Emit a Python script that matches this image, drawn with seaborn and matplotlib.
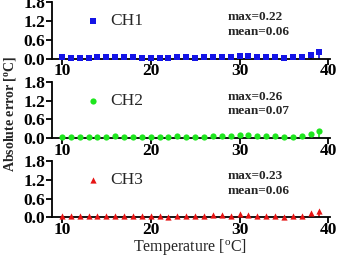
import numpy as np
import seaborn as sns
import matplotlib.pyplot as plt
import pandas as pd

temp = list(range(10, 40))
ch1 = [0.05, 0.03, 0.03, 0.03, 0.04, 0.04, 0.04, 0.04, 0.04, 0.03,
       0.03, 0.03, 0.02, 0.06, 0.04, 0.02, 0.04, 0.06, 0.06, 0.05,
       0.09, 0.08, 0.05, 0.05, 0.05, 0.02, 0.04, 0.05, 0.12, 0.20]
ch2 = [0.05, 0.03, 0.03, 0.04, 0.04, 0.05, 0.06, 0.05, 0.05, 0.04,
       0.03, 0.03, 0.03, 0.06, 0.05, 0.04, 0.05, 0.07, 0.07, 0.06,
       0.11, 0.09, 0.06, 0.06, 0.06, 0.03, 0.05, 0.06, 0.13, 0.22]
ch3 = [0.05, 0.04, 0.04, 0.05, 0.05, 0.05, 0.06, 0.05, 0.05, 0.04,
       0.04, 0.04, 0.03, 0.06, 0.05, 0.04, 0.05, 0.07, 0.07, 0.06,
       0.10, 0.09, 0.06, 0.06, 0.06, 0.03, 0.05, 0.06, 0.14, 0.22]
names = ['CH1', 'CH2', 'CH3']
stats = ['max=0.22\nmean=0.06', 'max=0.26\nmean=0.07', 'max=0.23\nmean=0.06']
colors = ['#1414e6', '#1ee61e', '#e61414']
markers = ['s', 'o', '^']
yticks = [0.0, 0.6, 1.2, 1.8]
xticks = [10, 20, 30, 40]

sns.set_style('ticks')
plt.rcParams['font.family'] = ['Liberation Serif', 'DejaVu Serif']

fig = plt.figure(figsize=(3.41, 2.58), dpi=100)
bottoms = [0.773, 0.464, 0.157]
for i, vals in enumerate([ch1, ch2, ch3]):
    ax = fig.add_axes([0.153, bottoms[i], 0.815, 0.219])
    df = pd.DataFrame({'t': temp, 'v': vals})
    ax.vlines(df['t'], 0, df['v'], color=colors[i], lw=1.2, clip_on=False)
    sns.scatterplot(data=df, x='t', y='v', ax=ax, color=colors[i], marker=markers[i],
                    s=20, edgecolor=colors[i], linewidth=0, clip_on=False, zorder=3)
    ax.set_xlim(8.9, 40.2)
    ax.set_ylim(0, 1.8)
    ax.set_xticks(xticks)
    ax.set_yticks(yticks)
    ax.set_yticklabels(['%.1f' % y for y in yticks])
    ax.set_xlabel('')
    ax.set_ylabel('')
    for s in ['top', 'right']:
        ax.spines[s].set_visible(False)
    for s in ['left', 'bottom']:
        ax.spines[s].set_linewidth(1.3)
        ax.spines[s].set_color('black')
    ax.tick_params(axis='both', labelsize=12.5, width=1.3, length=4, pad=1, colors='black')
    ax.tick_params(axis='x', pad=-0.5)
    for lab in ax.get_xticklabels() + ax.get_yticklabels():
        lab.set_fontweight('bold')
    ax.scatter([13.5], [1.2], marker=markers[i], color=colors[i], s=20, linewidth=0)
    ax.text(15.4, 1.2, names[i], fontsize=12.5, va='center')
    ax.text(28.7, 1.09, stats[i], fontsize=9.5, fontweight='bold', va='center', linespacing=1.3)
    ax.patch.set_alpha(0)

fig.text(0.557, 0.004, 'Temperature [$\\mathregular{^o}$C]', ha='center', va='bottom', fontsize=11.5)
fig.text(0.03, 0.56, 'Absolute error [$\\mathregular{^o}$C]', ha='center', va='center',
         rotation=90, fontsize=10, fontweight='bold')
fig.savefig('out.png', dpi=100)
